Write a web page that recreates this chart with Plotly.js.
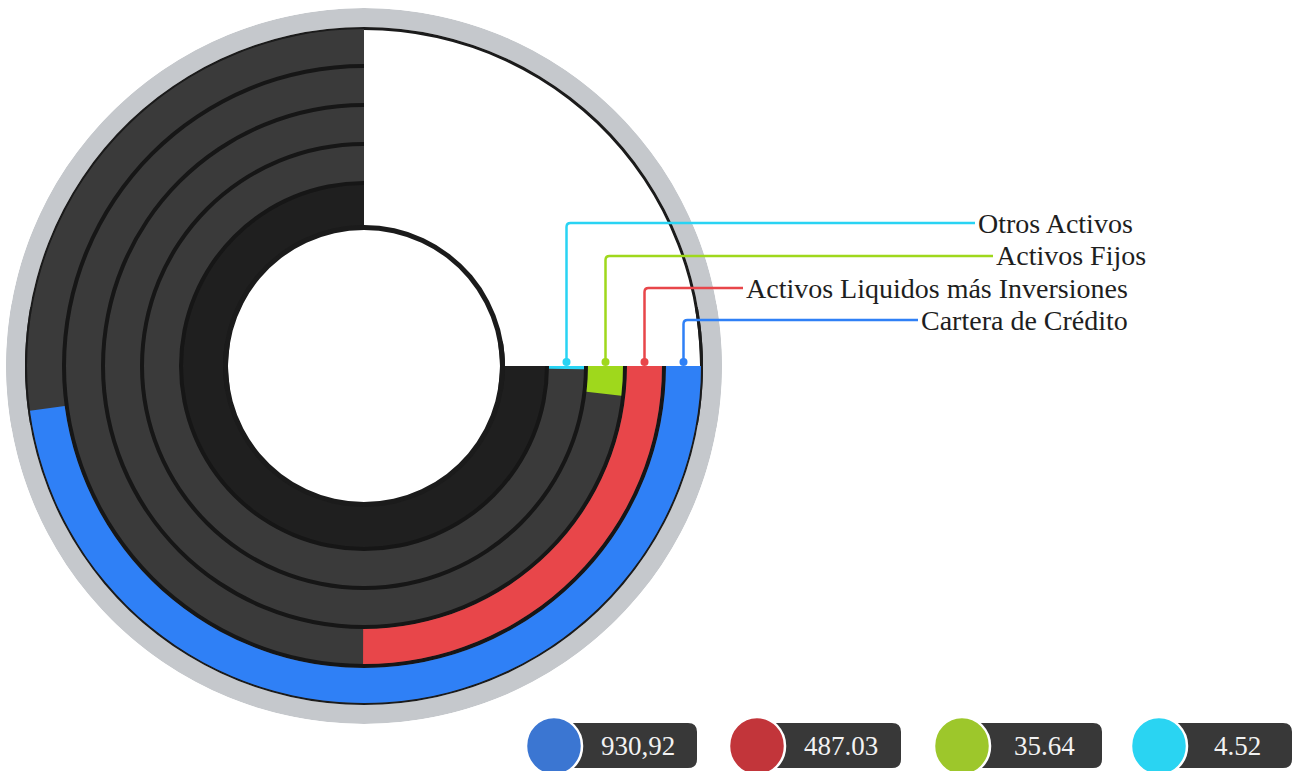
<!DOCTYPE html>
<html>
<head>
<meta charset="utf-8">
<script src="https://cdn.plot.ly/plotly-3.0.1.min.js"></script>
<style>
  html, body { margin: 0; padding: 0; background: #ffffff; }
  #chart { width: 1294px; height: 771px; }
</style>
</head>
<body>
<div id="chart"></div>
<script>
// ---------------- data ----------------
const categories = ['Cartera de Crédito', 'Activos Liquidos más Inversiones', 'Activos Fijos', 'Otros Activos'];
const values = [930.92, 487.03, 35.64, 4.52];
const valueLabels = ['930,92', '487.03', '35.64', '4.52'];
const barColors = ['#2f80f6', '#e8464a', '#9fd81c', '#29d3f3'];
const badgeColors = ['#3b76d2', '#c2353a', '#9dc72b', '#2ad4f2'];

// ---------------- layout constants ----------------
const W = 1294, H = 771;
const CX = 364, CY = 366;          // centre of the rings (px)
const RMAX = 358;                  // outer radius of grey ring (px)
const SWEEP = 270;                 // track sweep in degrees
const total = values.reduce((a, b) => a + b, 0);

// ring radii (px == radial units)
const ringBase = [302, 263, 224, 185];   // blue, red, green, cyan
const ringThk = 35;
const innerR = 140, innerDarkOuter = 181;

// leader-line label geometry (px)
const labelY = [320, 288, 256, 223];
const labelX = [918, 743, 993, 975];
const dotY = 362;

// badge geometry (px)
const badgeCX = [554, 757, 962, 1159];
const badgeRight = [697, 901, 1102, 1292];
const badgeCY = 746, badgeTop = 723, badgeBot = 768;

const X = px => px / W;
const Y = py => 1 - py / H;

function ring(base, thick, color, full) {
  if (full) {
    return {
      type: 'barpolar', r: [thick, thick], base: [base, base],
      theta: [90, 270], width: [200, 200],
      marker: { color: color, line: { width: 0 } }, hoverinfo: 'skip'
    };
  }
  return {
    type: 'barpolar', r: [thick], base: [base],
    theta: [SWEEP / 2], width: [SWEEP],
    marker: { color: color, line: { width: 0 } }, hoverinfo: 'skip'
  };
}

const traces = [];
traces.push(ring(339, RMAX - 339, '#c5c8cc', true));      // grey outer ring
traces.push(ring(336, 3, '#1b1b1b', true));               // thin black circle
traces.push(ring(innerR, 337 - innerR, '#161616', false)); // black backing (separators)
traces.push(ring(innerR, innerDarkOuter - innerR, '#1f1f1f', false)); // inner dark ring
ringBase.forEach(b => traces.push(ring(b, ringThk, '#3a3a3a', false)));
traces.push(ring(136, 5, '#1b1b1b', true));               // inner circle outline

// data bars
values.forEach((v, i) => {
  const ang = v / total * SWEEP;
  traces.push({
    type: 'barpolar', r: [ringThk], base: [ringBase[i]],
    theta: [ang / 2], width: [ang],
    marker: { color: barColors[i], line: { width: 0 } },
    name: categories[i], hoverinfo: 'name'
  });
});

// ---------------- shapes & annotations ----------------
const shapes = [];
const annotations = [];

categories.forEach((c, i) => {
  const vx = CX + ringBase[i] + ringThk / 2;
  const yt = labelY[i];
  const rr = 4;
  shapes.push({
    type: 'path', xref: 'paper', yref: 'paper',
    path: `M ${X(vx)},${Y(dotY)} L ${X(vx)},${Y(yt + rr)} Q ${X(vx)},${Y(yt)} ${X(vx + rr)},${Y(yt)} L ${X(labelX[i])},${Y(yt)}`,
    line: { color: barColors[i], width: 2.5 }
  });
  shapes.push({
    type: 'circle', xref: 'paper', yref: 'paper',
    x0: X(vx - 4), x1: X(vx + 4), y0: Y(dotY + 4), y1: Y(dotY - 4),
    fillcolor: barColors[i], line: { width: 0 }
  });
  annotations.push({
    xref: 'paper', yref: 'paper', x: X(labelX[i] + 1), y: Y(yt),
    xanchor: 'left', yanchor: 'middle', showarrow: false,
    text: c, font: { family: 'Liberation Serif, serif', size: 28, color: '#1e1e1e' }
  });
});

valueLabels.forEach((t, i) => {
  const cx = badgeCX[i], xr = badgeRight[i], rad = 9;
  shapes.push({
    type: 'path', xref: 'paper', yref: 'paper',
    path: `M ${X(cx)},${Y(badgeTop)} L ${X(xr - rad)},${Y(badgeTop)} Q ${X(xr)},${Y(badgeTop)} ${X(xr)},${Y(badgeTop + rad)} L ${X(xr)},${Y(badgeBot - rad)} Q ${X(xr)},${Y(badgeBot)} ${X(xr - rad)},${Y(badgeBot)} L ${X(cx)},${Y(badgeBot)} Z`,
    fillcolor: '#383838', line: { width: 0 }
  });
  shapes.push({
    type: 'circle', xref: 'paper', yref: 'paper',
    x0: X(cx - 28), x1: X(cx + 28), y0: Y(badgeCY + 29), y1: Y(badgeCY - 29),
    fillcolor: badgeColors[i], line: { color: '#ffffff', width: 2.5 }
  });
  annotations.push({
    xref: 'paper', yref: 'paper', x: X((cx + 28 + xr) / 2 - 2), y: Y((badgeTop + badgeBot) / 2),
    xanchor: 'center', yanchor: 'middle', showarrow: false,
    text: t, font: { family: 'Liberation Serif, serif', size: 27, color: '#f2f2f2' }
  });
});

const layout = {
  width: W, height: H,
  margin: { l: 0, r: 0, t: 0, b: 0 },
  paper_bgcolor: '#ffffff',
  showlegend: false,
  polar: {
    domain: { x: [X(CX - RMAX), X(CX + RMAX)], y: [Y(CY + RMAX), Y(CY - RMAX)] },
    bgcolor: 'rgba(0,0,0,0)',
    barmode: 'overlay',
    hole: 0,
    radialaxis: { range: [0, RMAX], visible: false, showgrid: false },
    angularaxis: { visible: false, showgrid: false, rotation: 0, direction: 'clockwise' }
  },
  shapes: shapes,
  annotations: annotations
};

Plotly.newPlot('chart', traces, layout, { displayModeBar: false, staticPlot: true });
</script>
</body>
</html>
